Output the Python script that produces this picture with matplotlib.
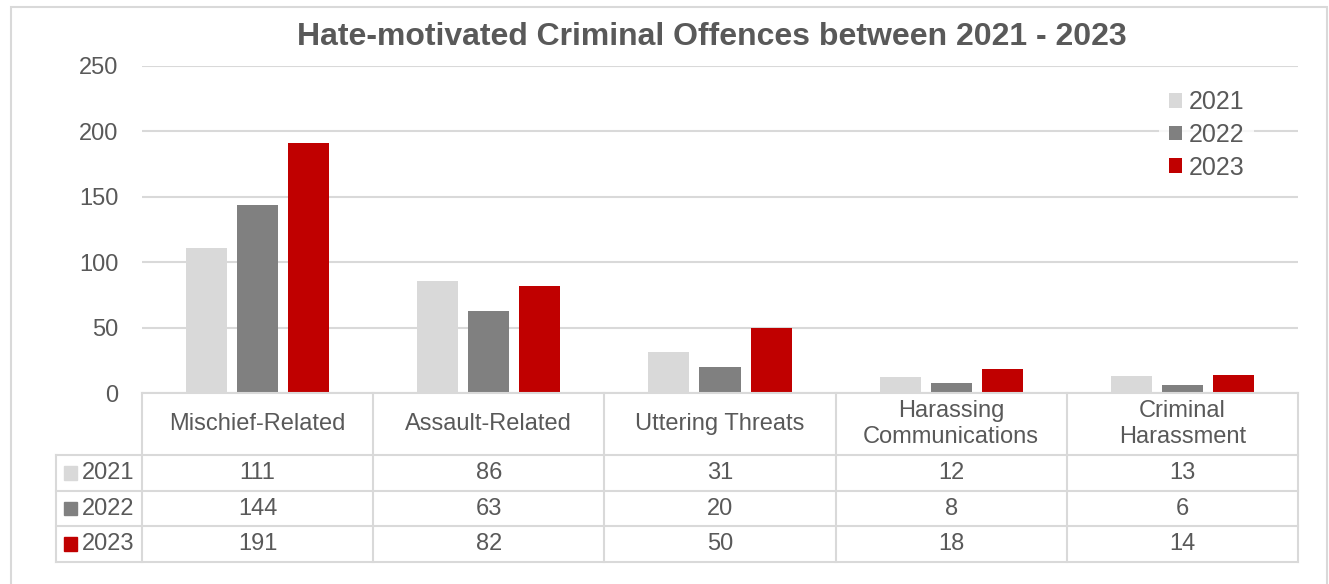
import numpy as np
import matplotlib.pyplot as plt
from matplotlib.patches import Rectangle
from matplotlib.transforms import blended_transform_factory

plt.rcParams['font.family'] = ['Liberation Sans', 'DejaVu Sans']

# Données : infractions motivées par la haine
categories = ['Mischief-Related', 'Assault-Related', 'Uttering Threats',
              'Harassing\nCommunications', 'Criminal\nHarassment']
years = ['2021', '2022', '2023']
v2021 = [111, 86, 31, 12, 13]
v2022 = [144, 63, 20, 8, 6]
v2023 = [191, 82, 50, 18, 14]
yticks = [0, 50, 100, 150, 200, 250]

series = [v2021, v2022, v2023]
colors = ['#D9D9D9', '#808080', '#C00000']
txt = '#595959'
grid = '#D9D9D9'

fig = plt.figure(figsize=(13.29, 5.84), dpi=100)
W, H = 1329, 584

# cadre extérieur du graphique
fig.patches.append(Rectangle((11 / W, -0.01), 1316 / W, 1 - 7 / H + 0.01,
                             transform=fig.transFigure, fill=False,
                             edgecolor=grid, linewidth=1.5))

ax = fig.add_axes([142 / W, 1 - 393 / H, 1156 / W, 327 / H])
x = np.arange(len(categories))
width = 0.178
offset = 0.221
for i, (vals, yr, c) in enumerate(zip(series, years, colors)):
    ax.bar(x + (i - 1) * offset, vals, width, color=c, label=yr, zorder=2)

ax.set_xlim(-0.5, len(categories) - 0.5)
ax.set_ylim(0, 250)
ax.set_yticks(yticks)
ax.tick_params(axis='y', length=0, labelsize=17, labelcolor=txt, pad=17)
ax.set_xticks([])
ax.grid(axis='y', color=grid, linewidth=1.5, zorder=0)
for s in ax.spines.values():
    s.set_visible(False)

ax.set_title('Hate-motivated Criminal Offences between 2021 - 2023',
             fontsize=23, fontweight='bold', color=txt, pad=15, x=0.493)

leg = ax.legend(loc='upper right', bbox_to_anchor=(0.973, 0.995),
                frameon=True, fontsize=18, handlelength=0.52,
                handleheight=0.52, handletextpad=0.25, labelspacing=0.35,
                borderpad=0.4, labelcolor=txt)
leg.get_frame().set_edgecolor('white')
leg.get_frame().set_linewidth(0)

# tableau de données sous l'axe
tr = blended_transform_factory(ax.transData, ax.transAxes)
ah = 327.0
hdr = -62 / ah
rh = 35.7 / ah
rows_y = [hdr - k * rh for k in range(4)]
lab_left = -0.5 - 86 / 231.2
n = len(categories)

lkw = dict(color=grid, linewidth=1.5, transform=tr, clip_on=False)
# lignes horizontales
ax.plot([-0.5, n - 0.5], [0, 0], **lkw)
for yy in rows_y:
    ax.plot([lab_left, n - 0.5], [yy, yy], **lkw)
# lignes verticales
for k in range(n + 1):
    ax.plot([k - 0.5, k - 0.5], [0, rows_y[-1]], **lkw)
ax.plot([lab_left, lab_left], [rows_y[0], rows_y[-1]], **lkw)

for k, cat in enumerate(categories):
    ax.text(k, hdr / 2, cat, transform=tr, ha='center', va='center',
            fontsize=17, color=txt, linespacing=1.25)

for r, (vals, yr, c) in enumerate(zip(series, years, colors)):
    yc = rows_y[r] - rh / 2
    ax.add_patch(Rectangle((lab_left + 0.034, yc - 0.021), 0.056, 0.042,
                           transform=tr, color=c, clip_on=False))
    ax.text(lab_left + 0.11, yc, yr, transform=tr, ha='left', va='center',
            fontsize=17, color=txt)
    for k, v in enumerate(vals):
        ax.text(k, yc, str(v), transform=tr, ha='center', va='center',
                fontsize=17, color=txt)

fig.savefig('out.png', dpi=100, facecolor='white')
